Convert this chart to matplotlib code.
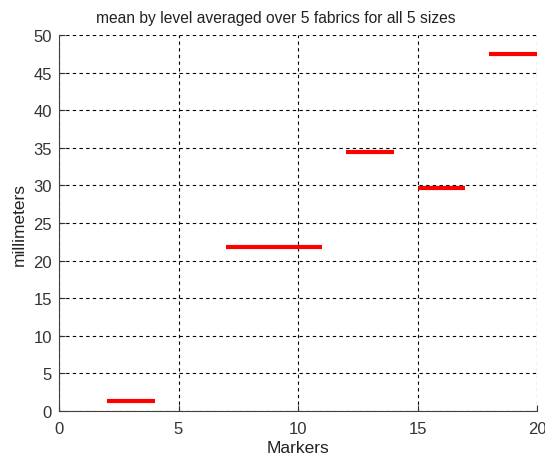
import matplotlib
matplotlib.use("Agg")
import matplotlib.pyplot as plt

x_starts = [2, 7, 12, 15, 18]
x_ends = [4, 11, 14, 17, 20]
means = [1.3, 21.8, 34.5, 29.7, 47.5]

plt.rcParams['font.family'] = ['Liberation Sans', 'DejaVu Sans']

fig = plt.figure(figsize=(5.45, 4.6), dpi=100)
ax = fig.add_axes([59/545, 48/460, 478/545, 376/460])
ax.hlines(means, x_starts, x_ends, colors='#ff0000', linewidth=3, zorder=3)
ax.set_xlim(0, 20)
ax.set_ylim(0, 50)
ax.set_xticks(range(0, 21, 5))
ax.set_yticks(range(0, 51, 5))
ax.grid(True, color='black', linestyle=(0, (3, 3)), linewidth=0.8)
for s in ['top', 'right']:
    ax.spines[s].set_visible(False)
for s in ['left', 'bottom']:
    ax.spines[s].set_color('#404040')
ax.tick_params(direction='in', length=4, labelsize=12, colors='#333333')
ax.tick_params(axis='x', pad=7)
ax.tick_params(axis='y', pad=5)
ax.set_xlabel('Markers', fontsize=12.5, labelpad=3, color='#222222')
ax.set_ylabel('millimeters', fontsize=12.5, labelpad=5, color='#222222')
fig.text(276/545, 1 - 19/460, 'mean by level averaged over 5 fabrics for all 5 sizes',
         fontsize=11.25, ha='center', va='center', color='#222222')
fig.savefig('out.png', dpi=100)
